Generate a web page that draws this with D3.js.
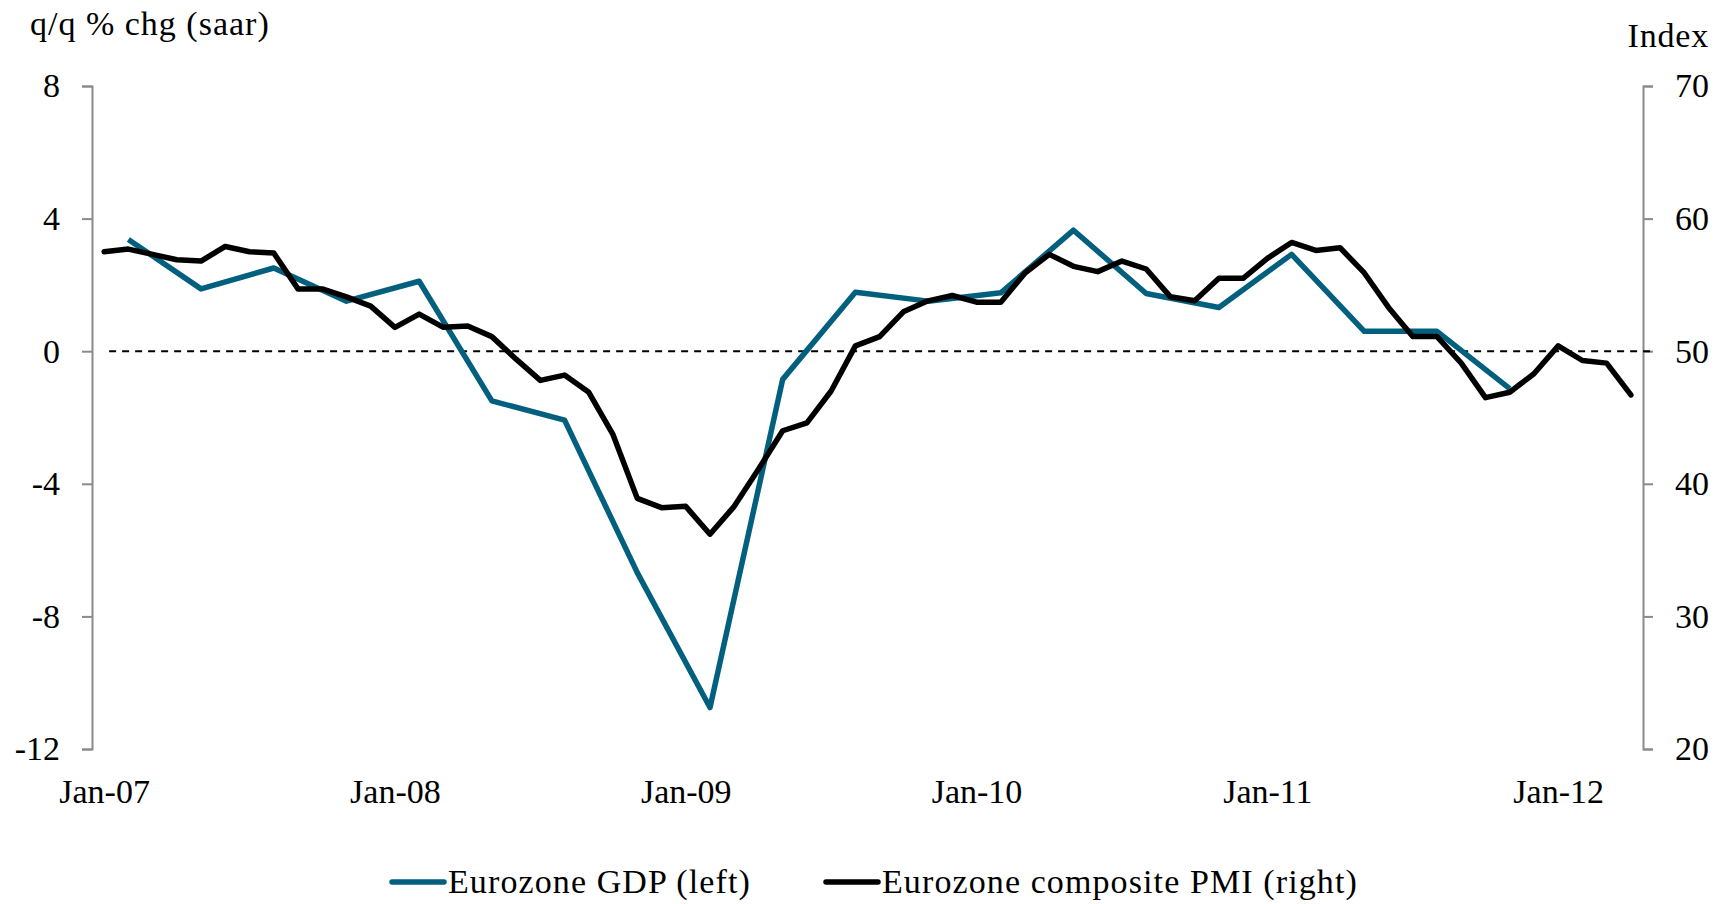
<!doctype html>
<html lang="en">
 <head>
   <meta charset="UTF-8">
   <title>Eurozone GDP and composite PMI</title>
   <script src="https://d3js.org/d3.v7.min.js"></script>
   <style>
     body { margin: 0; background: #fff; }
     text { font-family: "Liberation Serif", "Times New Roman", serif; fill: #000; }
   </style>
 </head>
 <body>
   <div id="myDiv"></div>

 <script type="text/javascript">

   // monthly composite PMI, Jan-07 .. Apr-12 (right axis)
   let pmiStart = "2007-01";
   let pmiValues = [
     57.5, 57.7, 57.3, 56.9, 56.8, 57.9, 57.5, 57.4, 54.7, 54.7, 54.1, 53.4,
     51.8, 52.8, 51.8, 51.9, 51.1, 49.4, 47.8, 48.2, 46.9, 43.7, 38.9, 38.2,
     38.3, 36.2, 38.3, 41.1, 44.0, 44.6, 47.0, 50.4, 51.1, 53.0, 53.8, 54.2,
     53.7, 53.7, 55.9, 57.3, 56.4, 56.0, 56.8, 56.2, 54.1, 53.8, 55.5, 55.5,
     57.0, 58.2, 57.6, 57.8, 55.9, 53.3, 51.1, 51.1, 49.1, 46.5, 46.9, 48.3,
     50.4, 49.3, 49.1, 46.7
   ];

   // quarterly GDP, plotted at mid-quarter month (left axis)
   let gdpMonths = [
     "2007-02", "2007-05", "2007-08", "2007-11",
     "2008-02", "2008-05", "2008-08", "2008-11",
     "2009-02", "2009-05", "2009-08", "2009-11",
     "2010-02", "2010-05", "2010-08", "2010-11",
     "2011-02", "2011-05", "2011-08", "2011-11"
   ];
   let gdpValues = [
     3.37, 1.88, 2.51, 1.51,
     2.11, -1.50, -2.08, -6.68,
     -10.75, -0.85, 1.78, 1.51,
     1.76, 3.65, 1.74, 1.32,
     2.92, 0.60, 0.60, -1.13
   ];

   // 50 line on the PMI axis
   let refLine = { from: "2007-01", to: "2012-05", value: 50 };

   let xTickMonths = ["2007-01", "2008-01", "2009-01", "2010-01", "2011-01", "2012-01"];
   let xTickLabels = ["Jan-07", "Jan-08", "Jan-09", "Jan-10", "Jan-11", "Jan-12"];
   let leftTicks = [-12, -8, -4, 0, 4, 8];
   let rightTicks = [20, 30, 40, 50, 60, 70];

   let gdpColor = "#02607e";
   let pmiColor = "#000000";
   let axisColor = "#8a8a8a";

   // month key -> index from Jan-07
   function monthIndex(key) {
     let parts = key.split("-");
     return (+parts[0] - 2007) * 12 + (+parts[1] - 1);
   }

   let width = 1724, height = 904;
   let plotLeft = 92, plotRight = 1643, plotTop = 86, plotBottom = 749;

   let svgContainer = d3.select("#myDiv").append("svg")
      .attr("width", width)
      .attr("height", height);

   let x = d3.scaleLinear()
      .domain([-0.5, pmiValues.length - 0.5])
      .range([plotLeft, plotRight]);
   let yLeft = d3.scaleLinear().domain([-12, 8]).range([plotBottom, plotTop]);
   let yRight = d3.scaleLinear().domain([20, 70]).range([plotBottom, plotTop]);

   // axes
   let leftAxis = svgContainer.append("g")
      .attr("transform", "translate(" + plotLeft + ",0)")
      .call(d3.axisLeft(yLeft).tickValues(leftTicks).tickSize(10).tickPadding(22)
         .tickFormat(function(d){ return String(d); }));
   let rightAxis = svgContainer.append("g")
      .attr("transform", "translate(" + plotRight + ",0)")
      .call(d3.axisRight(yRight).tickValues(rightTicks).tickSize(10).tickPadding(22)
         .tickFormat(function(d){ return String(d); }));
   [leftAxis, rightAxis].forEach(function(g){
     g.select(".domain").attr("stroke", axisColor).attr("stroke-width", 2);
     g.selectAll(".tick line").attr("stroke", axisColor).attr("stroke-width", 2);
     g.selectAll(".tick text")
       .attr("font-family", "Liberation Serif, serif")
       .attr("font-size", "34px")
       .attr("fill", "#000");
   });

   let bottomAxis = svgContainer.append("g")
      .attr("transform", "translate(0," + plotBottom + ")")
      .call(d3.axisBottom(x)
         .tickValues(xTickMonths.map(monthIndex))
         .tickSize(0).tickPadding(30)
         .tickFormat(function(d, i){ return xTickLabels[i]; }));
   bottomAxis.select(".domain").remove();
   bottomAxis.selectAll(".tick text")
      .attr("font-family", "Liberation Serif, serif")
      .attr("font-size", "34px")
      .attr("fill", "#000");

   // dashed 50 line
   svgContainer.append("line")
      .attr("x1", x(monthIndex(refLine.from)) + 5)
      .attr("x2", x(monthIndex(refLine.to)))
      .attr("y1", yRight(refLine.value))
      .attr("y2", yRight(refLine.value))
      .attr("stroke", "#000")
      .attr("stroke-width", 2)
      .attr("stroke-dasharray", "7,6");

   // series
   let pmiData = pmiValues.map(function(v, i){ return { i: monthIndex(pmiStart) + i, v: v }; });
   let gdpData = gdpValues.map(function(v, i){ return { i: monthIndex(gdpMonths[i]), v: v }; });

   let gdpLine = d3.line()
      .x(function(d){ return x(d.i); })
      .y(function(d){ return yLeft(d.v); });
   let pmiLine = d3.line()
      .x(function(d){ return x(d.i); })
      .y(function(d){ return yRight(d.v); });

   svgContainer.append("path")
      .datum(gdpData)
      .attr("d", gdpLine)
      .attr("fill", "none")
      .attr("stroke", gdpColor)
      .attr("stroke-width", 5.5)
      .attr("stroke-linejoin", "round");

   svgContainer.append("path")
      .datum(pmiData)
      .attr("d", pmiLine)
      .attr("fill", "none")
      .attr("stroke", pmiColor)
      .attr("stroke-width", 5.5)
      .attr("stroke-linejoin", "round")
      .attr("stroke-linecap", "round");

   // axis titles
   svgContainer.append("text")
      .attr("x", 30)
      .attr("y", 35)
      .attr("font-size", "34px")
      .attr("letter-spacing", "1px")
      .text("q/q % chg (saar)");
   svgContainer.append("text")
      .attr("x", 1709)
      .attr("y", 47)
      .attr("text-anchor", "end")
      .attr("font-size", "34px")
      .attr("letter-spacing", "0.8px")
      .text("Index");

   // legend
   let legendItems = [
     { label: "Eurozone GDP (left)", color: gdpColor, x: 392 },
     { label: "Eurozone composite PMI (right)", color: pmiColor, x: 826 }
   ];
   let legend = svgContainer.selectAll(".legend")
      .data(legendItems)
      .enter()
      .append("g")
        .attr("class", "legend")
        .attr("transform", function(d){ return "translate(" + d.x + ",882)"; });
   legend.append("line")
      .attr("x1", 0).attr("x2", 52)
      .attr("y1", 0).attr("y2", 0)
      .attr("stroke", function(d){ return d.color; })
      .attr("stroke-width", 5.5)
      .attr("stroke-linecap", "round");
   legend.append("text")
      .attr("x", 56)
      .attr("y", 11)
      .attr("font-size", "34px")
      .attr("letter-spacing", "1.1px")
      .text(function(d){ return d.label; });

 </script>
</body>
</html>
